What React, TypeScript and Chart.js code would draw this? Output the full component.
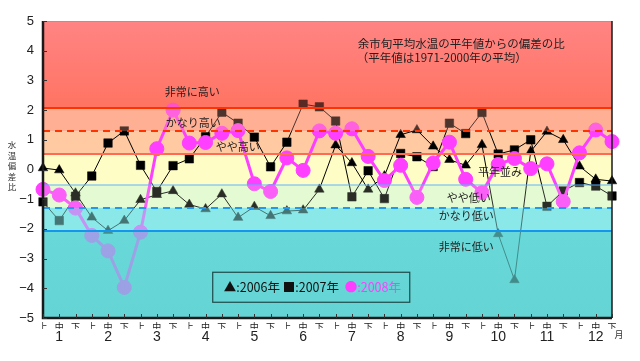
import React, { useEffect, useRef } from 'react';
import { Chart, registerables } from 'chart.js';

Chart.register(...registerables);

// ---------- data ----------
const dekads = ['上', '中', '下'];
const months = ['1', '2', '3', '4', '5', '6', '7', '8', '9', '10', '11', '12'];
const xLabels = months.flatMap(() => dekads);
const monthRow = months.flatMap((m) => ['', m, '']);
const yTicks = [-5, -4, -3, -2, -1, 0, 1, 2, 3, 4, 5];
const seriesNames = ['2006年', '2007年', '2008年'];

const s2006 = [0.05, -0.02, -0.8, -1.61, -2.06, -1.72, -1.02, -0.85, -0.72, -1.18, -1.33, -0.83,
  -1.62, -1.25, -1.56, -1.4, -1.37, -0.67, 0.82, 0.22, -0.67, -0.22, 1.17, 1.33,
  0.78, 0.33, 0.14, 0.83, -2.17, -3.72, 0.61, 1.28, 1.0, 0.11, -0.33, -0.39];
const s2007 = [-1.09, -1.72, -0.9, -0.22, 0.89, 1.3, 0.14, -0.74, 0.13, 0.36, 1.1, 1.93,
  1.56, 1.09, 0.09, 0.92, 2.2, 2.11, 1.63, -0.92, -0.04, -0.98, 0.54, 0.43,
  0.1, 1.56, 1.21, 1.92, 0.52, 0.66, 1.0, -1.24, -0.72, -0.44, -0.56, -0.89];
const s2008 = [-0.67, -0.86, -1.3, -2.22, -2.74, -3.97, -2.11, 0.7, 2.0, 0.89, 0.91, 1.22,
  1.31, -0.48, -0.74, 0.39, -0.03, 1.3, 1.22, 1.37, 0.44, -0.37, 0.14, -0.94,
  0.22, 0.92, -0.33, -0.78, 0.17, 0.37, 0.03, 0.19, -1.08, 0.56, 1.33, 0.94];

const bandEdges = [5, 2.07, 1.29, 0.53, -0.53, -1.29, -2.07, -5];
const levelLabels = ['非常に高い', 'かなり高い', 'やや高い', '平年並み', 'やや低い', 'かなり低い', '非常に低い'];
const titleLines = ['余市旬平均水温の平年値からの偏差の比', '（平年値は1971-2000年の平均）'];
const yTitle = ['水', '温', '偏', '差', '比'];
const monthUnit = '月';

// ---------- styles ----------
const bandColors: [string, string][] = [
  ['#FF8484', '#FF7462'],
  ['#FFAF94', '#FFAF94'],
  ['#FFC9A2', '#FFC9A2'],
  ['#FFFDC6', '#FFFDC6'],
  ['#E4FAD4', '#E4FAD4'],
  ['#8AE8E8', '#8AE8E8'],
  ['#68D8D8', '#64D4D4'],
];
const bandTint = [0.35, 0.3, 0, 0, 0.18, 0.5, 0.65];
const lineStyles = [
  { c: '#FF3300', w: 2, d: [] as number[] },
  { c: '#FF3300', w: 2, d: [7, 5] },
  { c: '#FF6A50', w: 2, d: [] as number[] },
  { c: '#5AB4FF', w: 1.2, d: [] as number[] },
  { c: '#2299EE', w: 2, d: [7, 5] },
  { c: '#1496EC', w: 2, d: [] as number[] },
];
// label anchor in data coords (category index, value)
const levelLabelPos = [[7.49, 2.62], [7.55, 1.58], [10.63, 0.77], [26.75, -0.07], [24.84, -0.94], [24.35, -1.55], [24.35, -2.59]];
const titlePos = [[19.36, 4.24], [19.3, 3.77]];
const MAGENTA = '#FF3FFF';
const JP = '"Noto Sans CJK JP", "Noto Sans", sans-serif';

function bandFill(ctx: CanvasRenderingContext2D, i: number, y1: number, y2: number) {
  const [a, b] = bandColors[i];
  if (a === b) return a;
  const g = ctx.createLinearGradient(0, y1, 0, y2);
  g.addColorStop(0, a);
  g.addColorStop(1, b);
  return g;
}

const decorPlugin = {
  id: 'decor',
  beforeDatasetsDraw(chart: any) {
    const { ctx, chartArea: ca, scales } = chart;
    const y = scales.y;
    ctx.save();
    for (let i = 0; i < bandColors.length; i++) {
      const y1 = y.getPixelForValue(bandEdges[i]);
      const y2 = y.getPixelForValue(bandEdges[i + 1]);
      ctx.fillStyle = bandFill(ctx, i, y1, y2);
      ctx.fillRect(ca.left, y1, ca.right - ca.left, y2 - y1);
    }
    ctx.restore();
  },
  afterDatasetsDraw(chart: any) {
    const { ctx, chartArea: ca, scales } = chart;
    const y = scales.y;
    const x = scales.x;
    ctx.save();
    for (let i = 0; i < bandColors.length; i++) {
      if (!bandTint[i]) continue;
      const y1 = y.getPixelForValue(bandEdges[i]);
      const y2 = y.getPixelForValue(bandEdges[i + 1]);
      ctx.globalAlpha = bandTint[i];
      ctx.fillStyle = bandFill(ctx, i, y1, y2);
      ctx.fillRect(ca.left, y1, ca.right - ca.left, y2 - y1);
    }
    ctx.globalAlpha = 1;
    for (let i = 1; i < bandEdges.length - 1; i++) {
      const st = lineStyles[i - 1];
      const py = Math.round(y.getPixelForValue(bandEdges[i]));
      ctx.strokeStyle = st.c;
      ctx.lineWidth = st.w;
      ctx.setLineDash(st.d);
      ctx.beginPath();
      ctx.moveTo(ca.left, py);
      ctx.lineTo(ca.right, py);
      ctx.stroke();
    }
    ctx.setLineDash([]);
    ctx.strokeStyle = '#FF7070';
    ctx.lineWidth = 1;
    ctx.beginPath();
    ctx.moveTo(ca.left, ca.top + 0.5);
    ctx.lineTo(ca.right, ca.top + 0.5);
    ctx.stroke();
    ctx.strokeStyle = '#1a1a1a';
    ctx.lineWidth = 1.5;
    ctx.beginPath();
    ctx.moveTo(ca.right, ca.top);
    ctx.lineTo(ca.right, ca.bottom);
    ctx.stroke();
    ctx.lineWidth = 2.5;
    ctx.beginPath();
    ctx.moveTo(ca.left, ca.top);
    ctx.lineTo(ca.left, ca.bottom);
    ctx.lineTo(ca.right, ca.bottom);
    ctx.stroke();
    ctx.lineWidth = 1;
    ctx.strokeStyle = '#333';
    for (const v of yTicks) {
      const py = Math.round(y.getPixelForValue(v)) + 0.5;
      ctx.beginPath();
      ctx.moveTo(ca.left, py);
      ctx.lineTo(ca.left + 4, py);
      ctx.stroke();
    }
    for (let i = 0; i < xLabels.length; i++) {
      const px = Math.round(x.getPixelForValue(i)) + 0.5;
      ctx.beginPath();
      ctx.moveTo(px, ca.bottom);
      ctx.lineTo(px, ca.bottom - 4);
      ctx.stroke();
    }
    ctx.fillStyle = '#222';
    ctx.textBaseline = 'middle';
    ctx.textAlign = 'left';
    ctx.font = `11.5px ${JP}`;
    titleLines.forEach((t, i) => {
      ctx.fillText(t, x.getPixelForValue(titlePos[i][0]), y.getPixelForValue(titlePos[i][1]));
    });
    ctx.font = `11px ${JP}`;
    levelLabels.forEach((t, i) => {
      ctx.fillText(t, x.getPixelForValue(levelLabelPos[i][0]), y.getPixelForValue(levelLabelPos[i][1]));
    });
    const bx1 = x.getPixelForValue(10.44), bx2 = x.getPixelForValue(22.56);
    const by1 = y.getPixelForValue(-3.46), by2 = y.getPixelForValue(-4.47);
    ctx.strokeStyle = '#1F4A4A';
    ctx.lineWidth = 1.2;
    ctx.strokeRect(bx1, by1, bx2 - bx1, by2 - by1);
    const cy = (by1 + by2) / 2;
    ctx.font = `12.5px ${JP}`;
    const symbols = ['▲', '■', '●'];
    const colors = ['#111', '#111', MAGENTA];
    const offs = [11, 70, 132];
    seriesNames.forEach((n, i) => {
      ctx.fillStyle = colors[i];
      ctx.fillText(symbols[i] + ':' + n, bx1 + offs[i], cy);
    });
    ctx.restore();
  },
  afterDraw(chart: any) {
    const { ctx, chartArea: ca } = chart;
    ctx.save();
    ctx.fillStyle = '#333';
    ctx.textAlign = 'center';
    ctx.textBaseline = 'middle';
    ctx.font = `8.5px ${JP}`;
    for (let i = 0; i < yTitle.length; i++) {
      ctx.fillText(yTitle[i], 12, 145 + i * 10.5);
    }
    ctx.font = `9px ${JP}`;
    ctx.fillText(monthUnit, ca.right + 7, ca.bottom + 17);
    ctx.restore();
  },
};

export default function App() {
  const ref = useRef<HTMLCanvasElement>(null);
  useEffect(() => {
    document.body.style.margin = '0';
    const chart = new Chart(ref.current as HTMLCanvasElement, {
      type: 'line',
      data: {
        labels: xLabels,
        datasets: [
          {
            label: seriesNames[0], data: s2006, borderColor: '#000', backgroundColor: '#000',
            borderWidth: 1, pointStyle: 'triangle', pointRadius: 5.5, pointBorderWidth: 0.5,
            pointBackgroundColor: '#000', pointBorderColor: '#000', tension: 0, order: 3,
          },
          {
            label: seriesNames[1], data: s2007, borderColor: '#000', backgroundColor: '#000',
            borderWidth: 1, pointStyle: 'rect', pointRadius: 6, pointBorderWidth: 0.5,
            pointBackgroundColor: '#000', pointBorderColor: '#000', tension: 0, order: 2,
          },
          {
            label: seriesNames[2], data: s2008, borderColor: MAGENTA, backgroundColor: MAGENTA,
            borderWidth: 3, pointStyle: 'circle', pointRadius: 7, pointBorderWidth: 1,
            pointBackgroundColor: MAGENTA, pointBorderColor: MAGENTA, tension: 0, order: 1,
          },
        ],
      } as any,
      options: {
        responsive: false,
        animation: false,
        events: [],
        layout: { padding: { top: 21, right: 28, bottom: 8, left: 0 } },
        plugins: { legend: { display: false }, tooltip: { enabled: false } },
        scales: {
          x: {
            type: 'category', position: 'bottom', offset: false, weight: 0,
            grid: { display: false, drawTicks: false }, border: { display: false },
            ticks: { autoSkip: false, maxRotation: 0, minRotation: 0, padding: 3, color: '#222', font: { size: 9, family: JP } },
            afterFit: (s: any) => { s.height = 11; },
          },
          xm: {
            type: 'category', position: 'bottom', labels: monthRow, offset: false, weight: 1,
            grid: { display: false, drawTicks: false }, border: { display: false },
            ticks: { autoSkip: false, maxRotation: 0, minRotation: 0, padding: 0, color: '#222', font: { size: 14, family: '"Liberation Sans", Arial, sans-serif' } },
            afterFit: (s: any) => { s.height = 24; },
          },
          y: {
            min: -5, max: 5,
            grid: { display: false, drawTicks: false }, border: { display: false },
            ticks: {
              padding: 9, color: '#222', font: { size: 13, family: '"Liberation Sans", Arial, sans-serif' },
              callback: (v: any) => (Number(v) < 0 ? '−' + Math.abs(Number(v)) : String(v)),
            },
            afterBuildTicks: (s: any) => { s.ticks = yTicks.map((v) => ({ value: v })); },
            afterFit: (s: any) => { s.width = 43; },
          },
        },
      } as any,
      plugins: [decorPlugin],
    });
    return () => chart.destroy();
  }, []);
  return (
    <div style={{ position: 'relative', width: 640, height: 361 }}>
      <canvas ref={ref} width={640} height={361} style={{ display: 'block', width: 640, height: 361 }} />
    </div>
  );
}
